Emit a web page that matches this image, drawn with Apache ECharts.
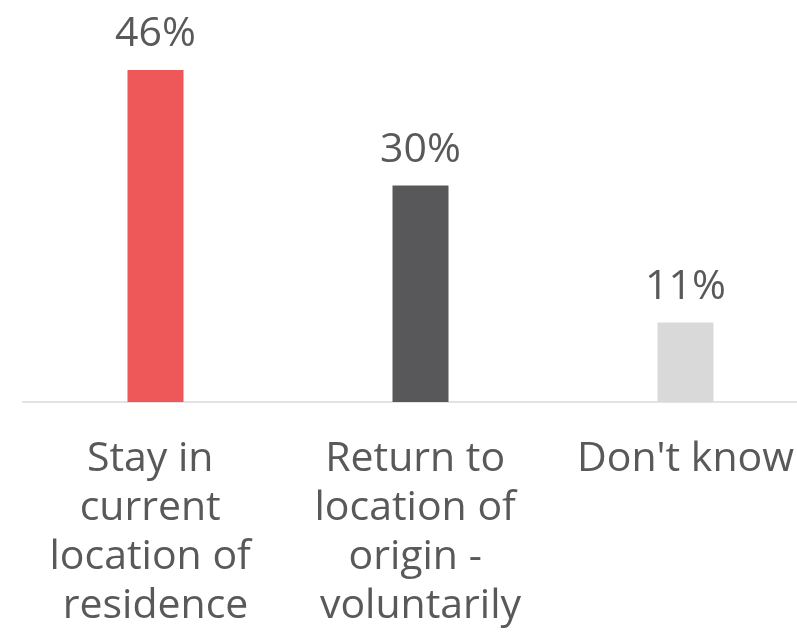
<!DOCTYPE html>
<html>
<head>
<meta charset="utf-8">
<script src="https://cdn.jsdelivr.net/npm/echarts@6/dist/echarts.min.js"></script>
<style>
html,body{margin:0;padding:0;background:#fff;overflow:hidden;}
#chart{width:819px;height:632px;}
</style>
</head>
<body>
<div id="chart"></div>
<script>
var categories = ["Stay in current location of residence", "Return to location of origin - voluntarily", "Don't know"];
var values = [46, 30, 11];
var barColors = ["#EF5859", "#58585A", "#D9D9D9"];

var chart = echarts.init(document.getElementById('chart'), null, {renderer: 'canvas'});
var FONT = "'Open Sans', 'Noto Sans', sans-serif";
chart.setOption({
  animation: false,
  backgroundColor: '#ffffff',
  grid: {left: 23, right: 1, top: 41, bottom: 230, containLabel: false},
  xAxis: {
    type: 'category',
    data: categories,
    axisLine: {show: true, lineStyle: {color: '#E3E3E3', width: 2}},
    axisTick: {show: false},
    axisLabel: {
      interval: 0,
      color: '#595959',
      fontFamily: FONT,
      fontSize: 41,
      lineHeight: 49,
      margin: 33,
      width: 250,
      overflow: 'break'
    }
  },
  yAxis: {
    type: 'value', min: 0, max: 50, show: false,
    splitLine: {show: false}
  },
  series: [{
    type: 'bar',
    barWidth: 56,
    data: values.map(function (v, i) { return {value: v, itemStyle: {color: barColors[i]}}; }),
    label: {
      show: true,
      position: 'top',
      distance: 15,
      formatter: '{c}%',
      color: '#595959',
      fontFamily: FONT,
      fontSize: 41
    }
  }]
});
</script>
</body>
</html>
